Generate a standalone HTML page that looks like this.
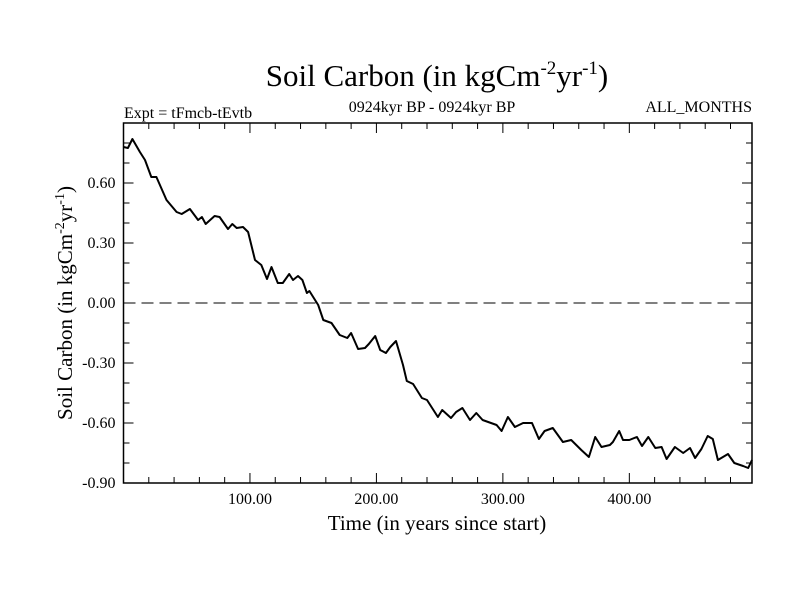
<!DOCTYPE html>
<html><head><meta charset="utf-8"><style>
html,body{margin:0;padding:0;background:#fff;}
svg text{font-family:"Liberation Serif",serif;fill:#000;}
</style></head><body>
<svg id="chart" width="800" height="600" viewBox="0 0 800 600" xmlns="http://www.w3.org/2000/svg">
<rect width="800" height="600" fill="#fff"/>
<text x="437" y="86" font-size="31" text-anchor="middle">Soil Carbon (in kgCm<tspan dy="-12" font-size="19">-2</tspan><tspan dy="12">yr</tspan><tspan dy="-12" font-size="19">-1</tspan><tspan dy="12">)</tspan></text>
<text x="124" y="118" font-size="16">Expt = tFmcb-tEvtb</text>
<text x="432" y="112" font-size="16" text-anchor="middle">0924kyr BP - 0924kyr BP</text>
<text x="752" y="112" font-size="16" text-anchor="end">ALL_MONTHS</text>
<g id="axes"></g>
<text x="437" y="530" font-size="21" text-anchor="middle">Time (in years since start)</text>
<text transform="translate(72,303) rotate(-90)" font-size="21" text-anchor="middle">Soil Carbon (in kgCm<tspan dy="-8" font-size="14">-2</tspan><tspan dy="8">yr</tspan><tspan dy="-8" font-size="14">-1</tspan><tspan dy="8">)</tspan></text>
</svg>
<script>
const years=[0,3.5,7,13,17,22,26,34,42,46,52.5,59,62,65,72,76,82.6,86,89.5,94.5,98.5,104,109,113.5,117,122,126,131,134,138,141.5,145,147,154,158,164.5,171,177,180,185.5,191,194,199,203,207.5,211,215.5,221,224,229,236,240,248.6,252,259,263,268,274,279,284,295,299,304,309.5,316,323,328.5,333,339.5,347.5,354,362,368,373,378,384.6,387,392,395,400,406,410,415,420.5,425.5,429.5,436,442.6,448,452,457,462,466,470,478,483,490,494,497];
const carbon=[0.78,0.775,0.82,0.755,0.715,0.63,0.63,0.515,0.455,0.445,0.47,0.415,0.43,0.395,0.435,0.43,0.37,0.395,0.375,0.38,0.355,0.215,0.19,0.12,0.18,0.10,0.10,0.145,0.115,0.135,0.115,0.05,0.06,-0.01,-0.085,-0.10,-0.16,-0.175,-0.15,-0.23,-0.225,-0.205,-0.165,-0.235,-0.25,-0.22,-0.19,-0.31,-0.39,-0.405,-0.475,-0.485,-0.57,-0.535,-0.575,-0.545,-0.525,-0.585,-0.55,-0.585,-0.61,-0.64,-0.57,-0.62,-0.6,-0.6,-0.68,-0.64,-0.625,-0.695,-0.685,-0.735,-0.77,-0.67,-0.72,-0.71,-0.695,-0.64,-0.685,-0.685,-0.67,-0.715,-0.67,-0.725,-0.72,-0.78,-0.72,-0.75,-0.725,-0.775,-0.73,-0.665,-0.68,-0.785,-0.755,-0.8,-0.815,-0.825,-0.785];
const xTicks=[100,200,300,400];
const xTickLabels=["100.00","200.00","300.00","400.00"];
const yTicks=[0.6,0.3,0,-0.3,-0.6,-0.9];
const yTickLabels=["0.60","0.30","0.00","-0.30","-0.60","-0.90"];
const X0=0,X1=497,Y0=-0.9,Y1=0.9;
const L=123.5,R=752,T=123,B=483;
const sx=v=>L+(v-X0)/(X1-X0)*(R-L);
const sy=v=>B-(v-Y0)/(Y1-Y0)*(B-T);
const NS="http://www.w3.org/2000/svg";
const g=document.getElementById('axes');
function mk(t,a){const e=document.createElementNS(NS,t);for(const k in a)e.setAttribute(k,a[k]);g.appendChild(e);return e;}
let e=mk('line',{x1:L,x2:R,y1:sy(0),y2:sy(0),stroke:'#000','stroke-width':1,'stroke-dasharray':'12,6'});


let d='';years.forEach((y,i)=>{d+=(i?'L':'M')+sx(y).toFixed(1)+','+sy(carbon[i]).toFixed(1);});
e=mk('path',{d:d,fill:'none',stroke:'#000','stroke-width':2,'stroke-linejoin':'round'});


e=mk('rect',{x:L,y:T,width:R-L,height:B-T,fill:'none',stroke:'#000','stroke-width':1.5});


for(let v=20;v<X1;v+=20){const maj=v%100===0,len=maj?10:6;
 e=mk('line',{x1:sx(v),x2:sx(v),y1:B,y2:B-len,stroke:'#000'});
 e=mk('line',{x1:sx(v),x2:sx(v),y1:T,y2:T+len,stroke:'#000'});}
for(let k=-8;k<=8;k++){const v=k/10,maj=k%3===0,len=maj?10:6;
 e=mk('line',{x1:L,x2:L+len,y1:sy(v),y2:sy(v),stroke:'#000'});
 e=mk('line',{x1:R,x2:R-len,y1:sy(v),y2:sy(v),stroke:'#000'});}
xTicks.forEach((v,i)=>{e=mk('text',{x:sx(v),y:B+21,'font-size':16,'text-anchor':'middle'});e.textContent=xTickLabels[i];
 });
yTicks.forEach((v,i)=>{e=mk('text',{x:L-8,y:sy(v)+5,'font-size':16,'text-anchor':'end'});e.textContent=yTickLabels[i];
 });
</script>
</body></html>
